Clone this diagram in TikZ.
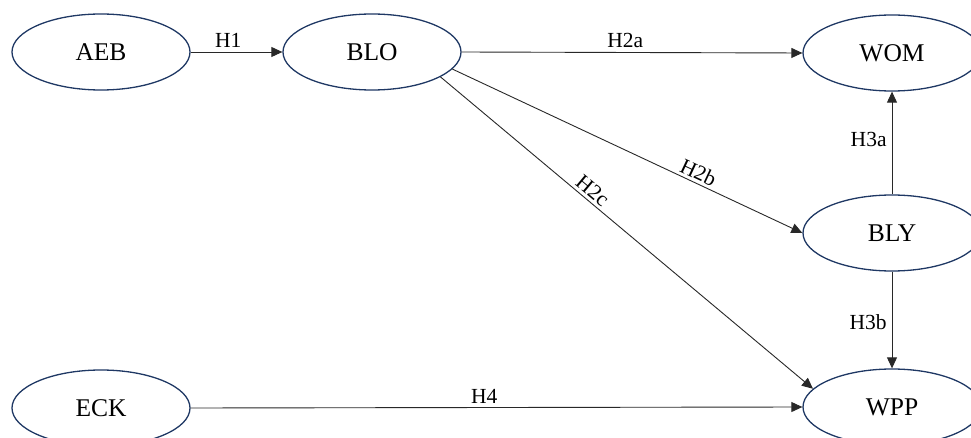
\documentclass[tikz,border=0pt]{standalone}
\usepackage{fontspec}
\setmainfont{Liberation Serif}
\usetikzlibrary{arrows.meta,shapes.geometric}
\definecolor{navy}{RGB}{31,56,100}
\definecolor{linegray}{RGB}{40,40,40}
\begin{document}
\begin{tikzpicture}[x=1pt,y=-1pt,
  construct/.style={ellipse,draw=navy,line width=1.3pt,minimum width=178pt,minimum height=76pt,inner sep=0pt,font=\fontsize{25.5}{30}\selectfont},
  link/.style={draw=linegray,line width=0.9pt,-{Triangle[length=11pt,width=10pt]}},
  hyp/.style={font=\fontsize{21.5}{24}\selectfont,text=black,inner sep=2pt}
]
\useasboundingbox (0,0) rectangle (971,438);
\clip (0,0) rectangle (971,438);
\node[construct] (AEB) at (101,52) {AEB};
\node[construct] (BLO) at (372,52) {BLO};
\node[construct] (WOM) at (892,53) {WOM};
\node[construct] (BLY) at (892,233) {BLY};
\node[construct] (ECK) at (101,408) {ECK};
\node[construct] (WPP) at (892,407) {WPP};

\draw[link] (AEB.east) -- node[hyp,above=2pt,pos=0.41]{H1} (BLO.west);
\draw[link] (BLO.east) -- node[hyp,above=2pt,pos=0.48]{H2a} (WOM.west);
\draw[link] (BLO.-12) -- node[hyp,sloped,above=1pt,pos=0.69]{H2b} (BLY.west);
\draw[link] (BLO.-20) -- node[hyp,sloped,above=1pt,pos=0.39]{H2c} (WPP.167);
\draw[link] (BLY.north) -- node[hyp,left=3pt,pos=0.53]{H3a} (WOM.south);
\draw[link] (BLY.south) -- node[hyp,left=3pt,pos=0.52]{H3b} (WPP.north);
\draw[link] (ECK.east) -- node[hyp,above=2pt,pos=0.48]{H4} (WPP.west);
\end{tikzpicture}
\end{document}
